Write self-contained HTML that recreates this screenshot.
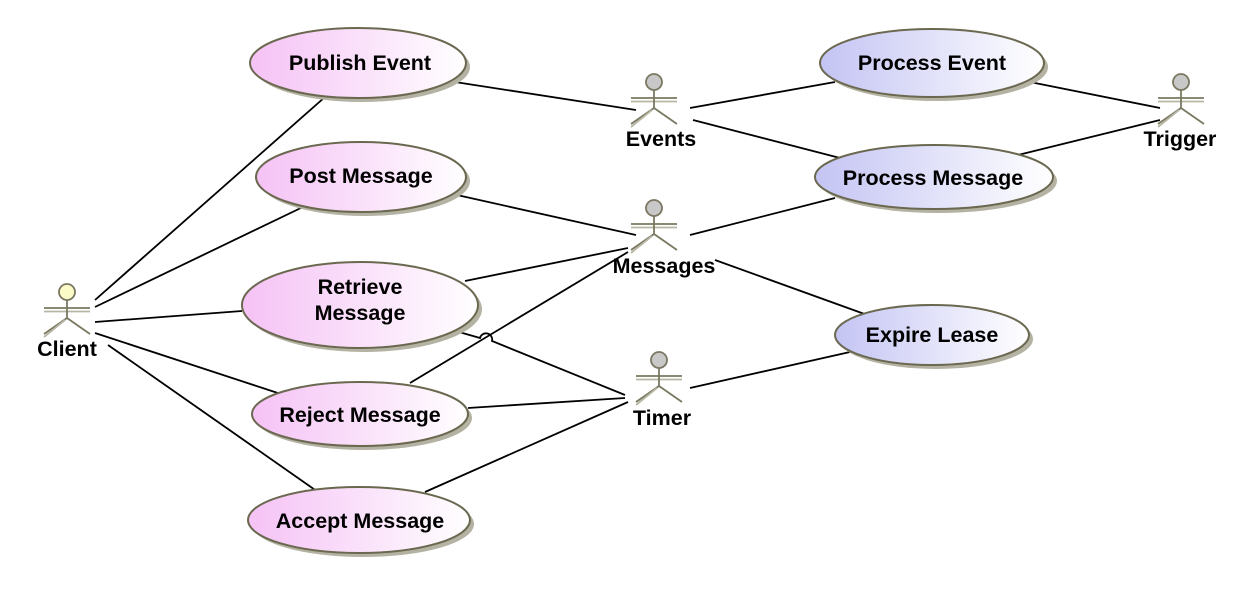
<!DOCTYPE html>
<html><head><meta charset="utf-8"><style>
body{margin:0;background:#fff}
svg text{font-family:"Liberation Sans",sans-serif;font-weight:bold;font-size:21.5px;fill:#000}
</style></head><body>
<svg width="1256" height="588" viewBox="0 0 1256 588" xmlns="http://www.w3.org/2000/svg">
<defs>
<linearGradient id="pk" x1="0" x2="1" y1="0" y2="0"><stop offset="0" stop-color="#f5c2f5"/><stop offset="1" stop-color="#ffffff"/></linearGradient>
<linearGradient id="bl" x1="0" x2="1" y1="0" y2="0"><stop offset="0" stop-color="#c4c4f4"/><stop offset="1" stop-color="#ffffff"/></linearGradient>
<g id="act" fill="none" stroke="#7a7860" stroke-width="1.8">
<line x1="-23" y1="16" x2="23" y2="16"/><line x1="-23" y1="19.5" x2="23" y2="19.5" stroke="#b8b6a4"/>
<line x1="0" y1="7" x2="0" y2="26"/>
<line x1="0" y1="26" x2="-23" y2="42"/><line x1="-2" y1="28" x2="-23" y2="45" stroke="#b8b6a4"/>
<line x1="0" y1="26" x2="23" y2="42"/>
</g>
</defs>
<g stroke="#000" stroke-width="1.8" fill="none">
<line x1="95" y1="300" x2="325" y2="97"/>
<line x1="95" y1="307" x2="305" y2="206"/>
<line x1="95" y1="322" x2="242" y2="311"/>
<line x1="95" y1="333" x2="287" y2="396"/>
<line x1="108" y1="345" x2="318" y2="492"/>
<line x1="455" y1="82" x2="636" y2="110"/>
<line x1="690" y1="108" x2="835" y2="82"/>
<line x1="693" y1="120" x2="840" y2="158"/>
<line x1="1030" y1="82" x2="1160" y2="108"/>
<line x1="1018" y1="155" x2="1160" y2="120"/>
<line x1="457" y1="195" x2="636" y2="235"/>
<line x1="690" y1="235" x2="835" y2="198"/>
<line x1="465" y1="281" x2="628" y2="248"/>
<line x1="715" y1="260" x2="870" y2="316"/>
<line x1="410" y1="383" x2="628" y2="252"/>
<path d="M452 330 L480 338 A6 6 0 0 1 492 341 L625 395"/>
<line x1="468" y1="408" x2="625" y2="398"/>
<line x1="425" y1="492" x2="628" y2="402"/>
<line x1="690" y1="388" x2="850" y2="352"/>
</g>
<g fill="#b4b2a2">
<ellipse cx="362" cy="67" rx="108" ry="35"/><ellipse cx="365" cy="181" rx="105" ry="35"/><ellipse cx="364" cy="309" rx="118" ry="43"/><ellipse cx="364" cy="418" rx="108" ry="32"/><ellipse cx="363" cy="524" rx="111" ry="33"/><ellipse cx="936" cy="67" rx="112" ry="34"/><ellipse cx="938" cy="181" rx="119" ry="32"/><ellipse cx="936" cy="339" rx="97" ry="30"/>
</g>
<g stroke="#6b6850" stroke-width="2" fill="url(#pk)">
<ellipse cx="358" cy="63" rx="108" ry="35"/>
<ellipse cx="361" cy="177" rx="105" ry="35"/>
<ellipse cx="360" cy="305" rx="118" ry="43"/>
<ellipse cx="360" cy="414" rx="108" ry="32"/>
<ellipse cx="359" cy="520" rx="111" ry="33"/>
</g>
<g stroke="#6b6850" stroke-width="2" fill="url(#bl)">
<ellipse cx="932" cy="63" rx="112" ry="34"/>
<ellipse cx="934" cy="177" rx="119" ry="32"/>
<ellipse cx="932" cy="335" rx="97" ry="30"/>
</g>
<g text-anchor="middle">
<text x="360" y="70">Publish Event</text>
<text x="361" y="183">Post Message</text>
<text x="360" y="294">Retrieve</text>
<text x="360" y="320">Message</text>
<text x="360" y="422">Reject Message</text>
<text x="360" y="528">Accept Message</text>
<text x="932" y="70">Process Event</text>
<text x="933" y="185">Process Message</text>
<text x="932" y="342">Expire Lease</text>
</g>
<use href="#act" x="67" y="292"/><circle cx="67" cy="292" r="8" fill="#fbfbc8" stroke="#7a7860" stroke-width="1.8"/>
<use href="#act" x="654" y="82"/><circle cx="654" cy="82" r="8" fill="#c8c8c8" stroke="#7a7860" stroke-width="1.8"/>
<use href="#act" x="654" y="208"/><circle cx="654" cy="208" r="8" fill="#c8c8c8" stroke="#7a7860" stroke-width="1.8"/>
<use href="#act" x="659" y="360"/><circle cx="659" cy="360" r="8" fill="#c8c8c8" stroke="#7a7860" stroke-width="1.8"/>
<use href="#act" x="1181" y="82"/><circle cx="1181" cy="82" r="8" fill="#c8c8c8" stroke="#7a7860" stroke-width="1.8"/>
<g text-anchor="middle">
<text x="67" y="356">Client</text>
<text x="661" y="146">Events</text>
<text x="664" y="273">Messages</text>
<text x="662" y="425">Timer</text>
<text x="1180" y="146">Trigger</text>
</g>
</svg>
</body></html>
